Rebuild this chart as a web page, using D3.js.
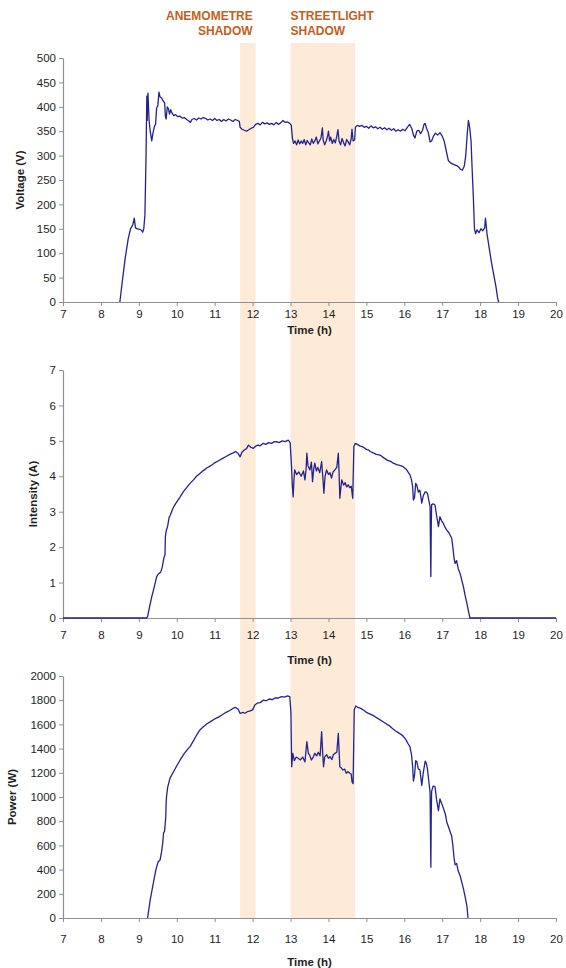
<!DOCTYPE html>
<html>
<head>
<meta charset="utf-8">
<script src="https://cdn.jsdelivr.net/npm/d3@7/dist/d3.min.js"></script>
<style>
  body { margin: 0; background: #fff; }
  text { font-family: "Liberation Sans", Arial, sans-serif; }
</style>
</head>
<body>
<script>
// time (h), value pairs
const voltage = [[8.50,0],[8.56,40],[8.64,90],[8.72,130],[8.78,150],[8.84,158],[8.88,172],[8.91,152],[8.96,150],[9.02,149],[9.07,147],[9.10,143],[9.13,150],[9.16,178],[9.19,300],[9.21,422],[9.22,372],[9.24,428],[9.27,372],[9.30,350],[9.34,330],[9.37,345],[9.41,360],[9.44,364],[9.47,398],[9.50,402],[9.53,430],[9.56,420],[9.60,418],[9.64,412],[9.68,408],[9.70,380],[9.72,375],[9.75,400],[9.78,396],[9.81,385],[9.84,394],[9.87,388],[9.92,382],[9.97,384],[10.02,380],[10.08,381],[10.14,377],[10.20,378],[10.26,374],[10.32,371],[10.36,368],[10.40,374],[10.46,376],[10.52,373],[10.58,377],[10.64,375],[10.70,378],[10.76,376],[10.82,373],[10.88,375],[10.94,372],[11.00,376],[11.06,372],[11.12,374],[11.18,370],[11.24,374],[11.30,371],[11.36,375],[11.42,373],[11.48,370],[11.54,374],[11.60,372],[11.65,370],[11.67,358],[11.72,354],[11.78,352],[11.84,350],[11.90,353],[11.96,356],[12.02,358],[12.08,364],[12.14,366],[12.20,363],[12.26,368],[12.32,365],[12.38,367],[12.44,364],[12.50,366],[12.56,363],[12.62,368],[12.68,364],[12.74,367],[12.80,372],[12.86,368],[12.92,369],[12.98,366],[13.02,362],[13.05,335],[13.08,325],[13.12,330],[13.16,322],[13.20,332],[13.24,324],[13.28,330],[13.32,325],[13.36,333],[13.40,322],[13.44,331],[13.48,326],[13.52,322],[13.56,334],[13.60,325],[13.64,330],[13.68,338],[13.72,324],[13.76,330],[13.80,335],[13.84,357],[13.86,332],[13.90,322],[13.94,330],[13.98,341],[14.00,350],[14.03,330],[14.06,338],[14.10,325],[14.14,333],[14.18,326],[14.22,340],[14.25,353],[14.28,330],[14.32,322],[14.36,335],[14.40,326],[14.44,320],[14.48,333],[14.52,328],[14.56,322],[14.60,335],[14.62,354],[14.65,330],[14.69,332],[14.71,358],[14.76,362],[14.82,360],[14.88,362],[14.94,358],[15.00,360],[15.06,356],[15.12,361],[15.18,357],[15.24,359],[15.30,355],[15.36,358],[15.42,354],[15.48,357],[15.54,353],[15.60,356],[15.66,352],[15.72,355],[15.78,350],[15.84,353],[15.90,350],[15.96,354],[16.02,351],[16.08,358],[16.14,364],[16.20,355],[16.24,342],[16.28,336],[16.33,350],[16.38,352],[16.43,345],[16.48,352],[16.52,364],[16.55,366],[16.59,355],[16.63,348],[16.68,328],[16.72,330],[16.77,340],[16.82,346],[16.88,342],[16.94,347],[17.00,340],[17.05,330],[17.10,312],[17.16,290],[17.22,285],[17.30,282],[17.36,280],[17.42,278],[17.48,272],[17.53,270],[17.58,278],[17.62,300],[17.66,345],[17.69,372],[17.72,360],[17.76,330],[17.79,270],[17.82,216],[17.85,150],[17.88,140],[17.92,148],[17.97,142],[18.02,150],[18.07,146],[18.12,152],[18.14,172],[18.18,140],[18.24,110],[18.30,80],[18.36,55],[18.42,30],[18.46,8],[18.49,0]];

const intensity = [[7,0],[9.2,0],[9.23,0.04],[9.28,0.3],[9.34,0.6],[9.40,0.85],[9.47,1.17],[9.52,1.25],[9.58,1.3],[9.62,1.45],[9.66,1.7],[9.69,1.78],[9.70,2.3],[9.72,2.45],[9.76,2.6],[9.80,2.85],[9.83,2.9],[9.88,3.05],[9.93,3.16],[10.00,3.28],[10.09,3.42],[10.17,3.56],[10.26,3.68],[10.35,3.8],[10.44,3.9],[10.52,4.0],[10.61,4.08],[10.70,4.16],[10.80,4.24],[10.90,4.3],[11.00,4.38],[11.10,4.44],[11.20,4.5],[11.30,4.56],[11.40,4.62],[11.49,4.66],[11.55,4.7],[11.62,4.64],[11.67,4.55],[11.72,4.68],[11.78,4.74],[11.84,4.78],[11.89,4.88],[11.95,4.82],[12.02,4.79],[12.08,4.85],[12.14,4.88],[12.20,4.86],[12.28,4.93],[12.35,4.9],[12.42,4.95],[12.50,4.93],[12.56,4.97],[12.63,4.98],[12.70,4.95],[12.78,5.0],[12.86,4.98],[12.94,5.02],[12.99,4.95],[13.02,4.4],[13.05,3.7],[13.07,3.42],[13.09,3.9],[13.11,4.18],[13.16,4.05],[13.22,4.12],[13.28,4.0],[13.34,4.15],[13.38,3.9],[13.41,4.2],[13.43,4.65],[13.46,4.3],[13.51,4.18],[13.55,4.4],[13.58,3.85],[13.61,4.2],[13.64,4.37],[13.68,4.15],[13.72,4.25],[13.77,4.1],[13.82,4.41],[13.85,4.0],[13.88,3.52],[13.91,4.0],[13.95,4.18],[14.00,4.05],[14.04,4.1],[14.08,3.95],[14.12,4.12],[14.17,4.18],[14.22,4.25],[14.26,4.65],[14.28,4.1],[14.30,3.38],[14.33,3.7],[14.35,3.9],[14.40,3.75],[14.44,3.82],[14.48,3.7],[14.52,3.76],[14.56,3.68],[14.60,3.72],[14.64,3.38],[14.67,4.84],[14.71,4.93],[14.76,4.9],[14.84,4.85],[14.92,4.82],[15.00,4.76],[15.06,4.74],[15.10,4.7],[15.18,4.66],[15.26,4.62],[15.36,4.6],[15.46,4.52],[15.56,4.45],[15.64,4.42],[15.71,4.37],[15.80,4.33],[15.90,4.3],[15.97,4.27],[16.05,4.2],[16.10,4.12],[16.15,4.04],[16.19,3.9],[16.22,3.7],[16.24,3.33],[16.27,3.4],[16.30,3.8],[16.33,3.75],[16.37,3.55],[16.41,3.61],[16.44,3.4],[16.46,3.24],[16.50,3.45],[16.55,3.56],[16.58,3.55],[16.61,3.52],[16.65,3.3],[16.68,3.14],[16.69,2.0],[16.70,1.17],[16.71,2.5],[16.72,3.2],[16.76,3.22],[16.81,3.19],[16.85,2.9],[16.90,2.58],[16.94,2.86],[16.98,2.75],[17.03,2.67],[17.08,2.55],[17.12,2.48],[17.18,2.4],[17.25,2.25],[17.28,2.0],[17.31,1.7],[17.34,1.54],[17.38,1.62],[17.42,1.4],[17.47,1.26],[17.52,1.05],[17.56,0.88],[17.60,0.65],[17.65,0.41],[17.70,0.15],[17.73,0],[20,0]];

const power = [[9.23,0],[9.30,150],[9.38,287],[9.45,400],[9.51,465],[9.56,480],[9.60,548],[9.63,620],[9.65,700],[9.68,720],[9.71,837],[9.72,950],[9.73,1003],[9.76,1080],[9.82,1154],[9.90,1200],[10.00,1258],[10.09,1306],[10.20,1360],[10.30,1400],[10.35,1416],[10.45,1470],[10.52,1510],[10.61,1554],[10.70,1580],[10.80,1605],[10.90,1625],[11.00,1645],[11.10,1660],[11.20,1680],[11.30,1700],[11.40,1715],[11.49,1734],[11.55,1740],[11.62,1725],[11.67,1690],[11.74,1700],[11.80,1692],[11.86,1705],[11.92,1710],[12.00,1720],[12.06,1760],[12.12,1775],[12.20,1780],[12.28,1800],[12.36,1795],[12.44,1810],[12.52,1805],[12.60,1820],[12.68,1818],[12.76,1830],[12.84,1826],[12.92,1835],[12.98,1830],[13.01,1700],[13.03,1250],[13.06,1361],[13.10,1300],[13.15,1330],[13.20,1320],[13.26,1306],[13.32,1330],[13.38,1290],[13.43,1457],[13.47,1360],[13.50,1350],[13.55,1306],[13.60,1330],[13.64,1361],[13.69,1340],[13.73,1370],[13.78,1340],[13.82,1540],[13.85,1350],[13.87,1250],[13.90,1330],[13.95,1350],[14.00,1320],[14.04,1334],[14.09,1310],[14.13,1350],[14.17,1361],[14.22,1370],[14.26,1526],[14.28,1380],[14.30,1250],[14.34,1240],[14.38,1223],[14.43,1230],[14.47,1196],[14.52,1210],[14.56,1196],[14.60,1190],[14.62,1127],[14.65,1110],[14.68,1720],[14.72,1752],[14.78,1740],[14.86,1730],[14.94,1715],[15.00,1700],[15.10,1685],[15.20,1670],[15.30,1650],[15.40,1630],[15.50,1610],[15.60,1590],[15.71,1560],[15.80,1540],[15.90,1520],[15.97,1503],[16.05,1470],[16.10,1440],[16.15,1414],[16.19,1350],[16.22,1250],[16.24,1132],[16.27,1180],[16.30,1300],[16.33,1294],[16.37,1230],[16.41,1227],[16.44,1150],[16.46,1095],[16.50,1200],[16.55,1296],[16.58,1280],[16.61,1232],[16.65,1120],[16.68,1036],[16.69,700],[16.70,420],[16.71,850],[16.72,1046],[16.76,1090],[16.81,1085],[16.85,980],[16.90,888],[16.94,984],[16.98,950],[17.03,908],[17.08,860],[17.12,794],[17.18,740],[17.25,675],[17.28,600],[17.31,500],[17.34,439],[17.38,450],[17.42,390],[17.47,350],[17.52,290],[17.56,240],[17.60,180],[17.65,100],[17.68,0]];

const timeTicks = d3.range(7, 21);
const voltageTicks = d3.range(0, 501, 50);
const intensityTicks = d3.range(0, 8);
const powerTicks = d3.range(0, 2001, 200);

// shaded periods [start, end] in hours
const shadows = [[11.67, 12.08], [13.0, 14.7]];
const shadowNames = [['ANEMOMETRE', 'SHADOW'], ['STREETLIGHT', 'SHADOW']];

const width = 566, height = 968;
const lineColor = '#23238f';
const axisColor = '#8f8f8f';

const svg = d3.select('body').append('svg')
  .attr('width', width)
  .attr('height', height);

const x = d3.scaleLinear().domain([7, 20]).range([63, 556]);

// shadow bands go behind all three panels
svg.selectAll('rect.shadow')
  .data(shadows)
  .join('rect')
  .attr('class', 'shadow')
  .attr('x', d => x(d[0]))
  .attr('width', d => x(d[1]) - x(d[0]))
  .attr('y', 43)
  .attr('height', 918 - 43)
  .attr('fill', '#fdebd8');

// labels above the bands
const lab = svg.append('g')
  .attr('font-weight', 'bold')
  .attr('font-size', 12)
  .attr('fill', '#c2601c');
lab.selectAll('text.an')
  .data(shadowNames[0])
  .join('text')
  .attr('x', x(shadows[0][1]) - 3)
  .attr('y', (d, i) => 20 + i * 15)
  .attr('text-anchor', 'end')
  .text(d => d);
lab.selectAll('text.st')
  .data(shadowNames[1])
  .join('text')
  .attr('x', x(shadows[1][0]))
  .attr('y', (d, i) => 20 + i * 15)
  .text(d => d);

const panels = [
  {data: voltage, max: 500, ticks: voltageTicks, top: 58, bottom: 302, title: 'Voltage (V)', titleX: 20, pad: 4, timeY: 334},
  {data: intensity, max: 7, ticks: intensityTicks, top: 370, bottom: 618, title: 'Intensity (A)', titleX: 33, pad: 9, timeY: 664},
  {data: power, max: 2000, ticks: powerTicks, top: 676, bottom: 918, title: 'Power (W)', titleX: 12, pad: 13, timeY: 966}
];

panels.forEach(p => {
  const y = d3.scaleLinear().domain([0, p.max]).range([p.bottom, p.top]);
  const g = svg.append('g');

  const xAxis = g.append('g')
    .attr('transform', `translate(0,${p.bottom})`)
    .call(d3.axisBottom(x).tickValues(timeTicks).tickFormat(d3.format('d'))
      .tickSize(4).tickSizeOuter(0).tickPadding(p.pad));
  const yAxis = g.append('g')
    .attr('transform', `translate(${x.range()[0]},0)`)
    .call(d3.axisLeft(y).tickValues(p.ticks).tickFormat(d3.format('d'))
      .tickSize(4).tickSizeOuter(0).tickPadding(3));

  [xAxis, yAxis].forEach(a => {
    a.select('.domain').attr('stroke', axisColor).attr('stroke-width', 1.2);
    a.selectAll('.tick line').attr('stroke', axisColor);
    a.selectAll('.tick text')
      .attr('fill', '#1e1e1e')
      .attr('font-size', 11.5)
      .attr('font-family', '"Liberation Sans", Arial, sans-serif');
  });

  const line = d3.line()
    .x(d => x(d[0]))
    .y(d => y(d[1]));

  g.append('path')
    .datum(p.data)
    .attr('fill', 'none')
    .attr('stroke', lineColor)
    .attr('stroke-width', 1.3)
    .attr('stroke-linejoin', 'round')
    .attr('d', line);

  g.append('text')
    .attr('x', (x.range()[0] + x.range()[1]) / 2)
    .attr('y', p.timeY)
    .attr('text-anchor', 'middle')
    .attr('font-weight', 'bold')
    .attr('font-size', 11.5)
    .attr('fill', '#1e1e1e')
    .text('Time (h)');

  g.append('text')
    .attr('transform', `translate(${p.titleX},${(p.top + p.bottom) / 2}) rotate(-90)`)
    .attr('text-anchor', 'middle')
    .attr('dy', '0.35em')
    .attr('font-weight', 'bold')
    .attr('font-size', 11.5)
    .attr('fill', '#1e1e1e')
    .text(p.title);
});
</script>
</body>
</html>
